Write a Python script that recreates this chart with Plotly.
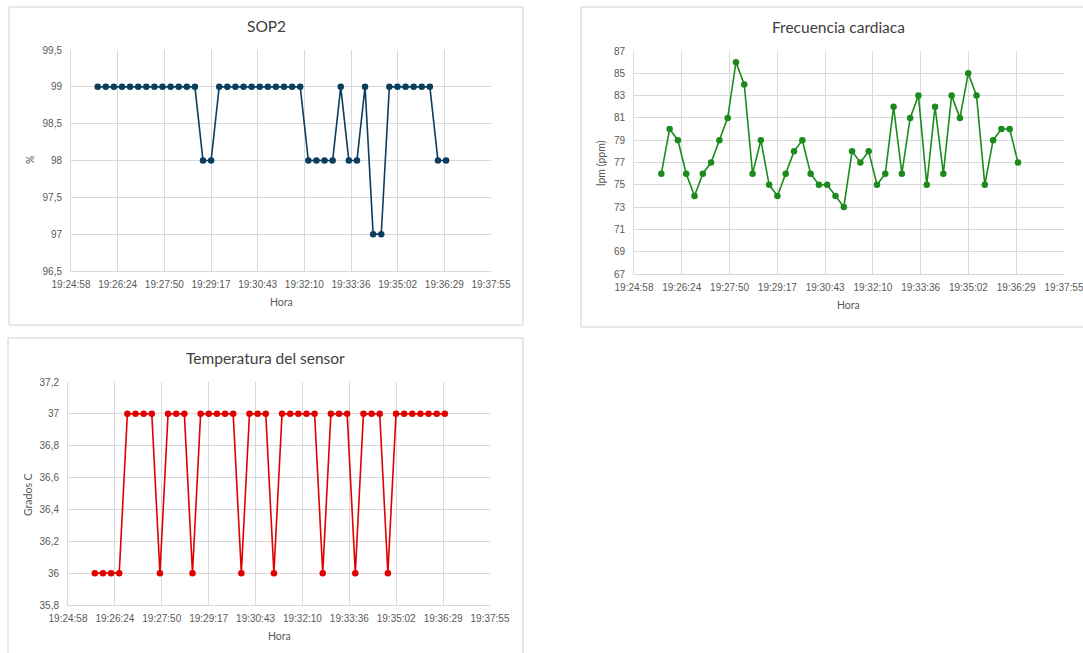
import plotly.graph_objects as go

W, H = 1083, 653

hora = ["19:25:47", "19:26:02", "19:26:17", "19:26:32", "19:26:47", "19:27:02", "19:27:17", "19:27:32",
        "19:27:47", "19:28:02", "19:28:17", "19:28:32", "19:28:47", "19:29:02", "19:29:17", "19:29:32",
        "19:29:47", "19:30:02", "19:30:17", "19:30:32", "19:30:47", "19:31:02", "19:31:17", "19:31:32",
        "19:31:47", "19:32:02", "19:32:17", "19:32:32", "19:32:47", "19:33:02", "19:33:17", "19:33:32",
        "19:33:47", "19:34:02", "19:34:17", "19:34:32", "19:34:47", "19:35:02", "19:35:17", "19:35:32",
        "19:35:47", "19:36:02", "19:36:17", "19:36:32"]

sop2 = [99, 99, 99, 99, 99, 99, 99, 99, 99, 99, 99, 99, 99, 98, 98,
        99, 99, 99, 99, 99, 99, 99, 99, 99, 99, 99,
        98, 98, 98, 98, 99, 98, 98, 99, 97, 97,
        99, 99, 99, 99, 99, 99, 98, 98]

frecuencia = [76, 80, 79, 76, 74, 76, 77, 79, 81, 86, 84, 76, 79, 75, 74, 76, 78, 79, 76, 75, 75, 74,
              73, 78, 77, 78, 75, 76, 82, 76, 81, 83, 75, 82, 76, 83, 81, 85, 83, 75, 79, 80, 80, 77]

temperatura = [36, 36, 36, 36, 37, 37, 37, 37, 36, 37, 37, 37, 36, 37, 37, 37, 37, 37, 36, 37, 37, 37,
               36, 37, 37, 37, 37, 37, 36, 37, 37, 37, 36, 37, 37, 37, 36, 37, 37, 37, 37, 37, 37, 37]

# x-axis ticks (Excel time axis: 0.809 .. 0.818 days, step 0.001)
x_tick_vals = ["19:24:57.6", "19:26:24.0", "19:27:50.4", "19:29:16.8", "19:30:43.2",
               "19:32:09.6", "19:33:36.0", "19:35:02.4", "19:36:28.8", "19:37:55.2"]
x_tick_text = ["19:24:58", "19:26:24", "19:27:50", "19:29:17", "19:30:43",
               "19:32:10", "19:33:36", "19:35:02", "19:36:29", "19:37:55"]

sop_ticks = [96.5, 97, 97.5, 98, 98.5, 99, 99.5]
sop_text = ["96,5", "97", "97,5", "98", "98,5", "99", "99,5"]
fc_ticks = [67, 69, 71, 73, 75, 77, 79, 81, 83, 85, 87]
temp_ticks = [35.8, 36, 36.2, 36.4, 36.6, 36.8, 37, 37.2]
temp_text = ["35,8", "36", "36,2", "36,4", "36,6", "36,8", "37", "37,2"]

DAY = "2024-01-01 "
xs = [DAY + h for h in hora]
xtv = [DAY + t for t in x_tick_vals]

FONT = "Liberation Sans, Arial, sans-serif"
TFONT = "Lato, Open Sans, sans-serif"
GRID = "#d9d9d9"
TXT = "#595959"

def px_x(p):
    return p / W

def px_y(p):
    return 1 - p / H

fig = go.Figure()

panels = [
    dict(y=sop2, color="#0b3d5e", box=(71, 491, 50, 271), tv=sop_ticks, tt=sop_text,
         rng=[96.5, 99.5], title="SOP2", ytitle="%", border=(9, 523, 7, 325),
         tpos=(266, 26), hpos=(281, 302), ypos=(30, 160)),
    dict(y=frecuencia, color="#1b8c1b", box=(634, 1064, 51, 274), tv=fc_ticks, tt=[str(v) for v in fc_ticks],
         rng=[67, 87], title="Frecuencia cardiaca", ytitle="lpm (ppm)", border=(581, 1090, 7, 327),
         tpos=(838, 27), hpos=(848, 305), ypos=(601, 163)),
    dict(y=temperatura, color="#e00000", box=(68, 490, 382, 605), tv=temp_ticks, tt=temp_text,
         rng=[35.8, 37.2], title="Temperatura del sensor", ytitle="Grados C", border=(8, 523, 338, 660),
         tpos=(265, 358), hpos=(279, 636), ypos=(28, 495)),
]

shapes = []
annotations = []
for i, p in enumerate(panels, start=1):
    xa = "x" if i == 1 else f"x{i}"
    ya = "y" if i == 1 else f"y{i}"
    fig.add_trace(go.Scatter(
        x=xs, y=p["y"], mode="lines+markers", xaxis=xa, yaxis=ya,
        line=dict(color=p["color"], width=1.6),
        marker=dict(color=p["color"], size=6.5),
        showlegend=False, cliponaxis=False,
    ))
    l, r, t, b = p["box"]
    xkey = "xaxis" if i == 1 else f"xaxis{i}"
    ykey = "yaxis" if i == 1 else f"yaxis{i}"
    fig.layout[xkey] = dict(
        domain=[px_x(l), px_x(r)], anchor=ya, type="date", automargin=False,
        range=[xtv[0], xtv[-1]], tickmode="array", tickvals=xtv, ticktext=x_tick_text,
        showgrid=True, gridcolor=GRID, gridwidth=1, showline=True, linecolor=GRID, linewidth=1,
        zeroline=False, ticks="", tickfont=dict(family=FONT, size=10, color=TXT), ticklabelstandoff=4,
        ticklabeloverflow="allow",
    )
    fig.layout[ykey] = dict(
        domain=[px_y(b), px_y(t)], anchor=xa, range=p["rng"], automargin=False,
        tickmode="array", tickvals=p["tv"], ticktext=p["tt"],
        showgrid=True, gridcolor=GRID, gridwidth=1, showline=True, linecolor=GRID, linewidth=1,
        zeroline=False, ticks="", tickfont=dict(family=FONT, size=10, color=TXT), ticklabelstandoff=6,
    )
    bl, br, bt, bb = p["border"]
    shapes.append(dict(type="rect", xref="paper", yref="paper",
                       x0=px_x(bl), x1=px_x(br), y0=px_y(bb), y1=px_y(bt),
                       line=dict(color="#d0d0d0", width=1), fillcolor="rgba(0,0,0,0)", layer="below"))
    annotations.append(dict(text=p["title"], x=px_x(p["tpos"][0]), y=px_y(p["tpos"][1]),
                            xref="paper", yref="paper", showarrow=False, xanchor="center", yanchor="middle",
                            font=dict(family=TFONT, size=15.5, color="#404040")))
    annotations.append(dict(text="Hora", x=px_x(p["hpos"][0]), y=px_y(p["hpos"][1]),
                            xref="paper", yref="paper", showarrow=False, xanchor="center", yanchor="middle",
                            font=dict(family=TFONT, size=10.5, color=TXT)))
    annotations.append(dict(text=p["ytitle"], x=px_x(p["ypos"][0]), y=px_y(p["ypos"][1]),
                            xref="paper", yref="paper", showarrow=False, xanchor="center", yanchor="middle",
                            textangle=-90, font=dict(family=TFONT, size=10.5, color=TXT)))

fig.update_layout(
    width=W, height=H, autosize=False,
    margin=dict(l=0, r=0, t=0, b=0, autoexpand=False),
    paper_bgcolor="white", plot_bgcolor="white",
    shapes=shapes, annotations=annotations,
)

fig.write_html("out.html", config={"displayModeBar": False},
               post_script="document.body.style.margin='0';document.body.style.overflow='hidden';")
